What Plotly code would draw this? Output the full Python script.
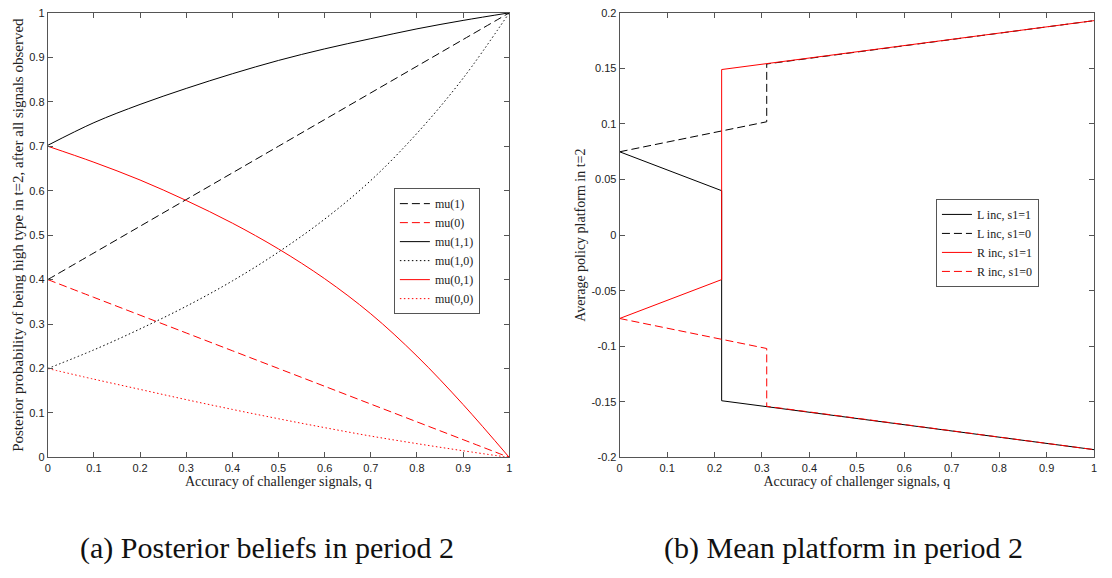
import plotly.graph_objects as go

# ---- Panel (a): posterior beliefs in period 2 ----
q_grid = [0.0, 0.1, 0.2, 0.3, 0.4, 0.5, 0.6, 0.7, 0.8, 0.9, 1.0]
mu_1 = [0.40, 0.46, 0.52, 0.58, 0.64, 0.70, 0.76, 0.82, 0.88, 0.94, 1.00]
mu_0 = [0.40, 0.36, 0.32, 0.28, 0.24, 0.20, 0.16, 0.12, 0.08, 0.04, 0.00]
mu_11 = [0.702, 0.753, 0.794, 0.830, 0.863, 0.893, 0.919, 0.942, 0.964, 0.983, 1.000]
mu_10 = [0.200, 0.242, 0.289, 0.340, 0.397, 0.462, 0.536, 0.623, 0.729, 0.853, 1.000]
mu_01 = [0.700, 0.664, 0.624, 0.578, 0.527, 0.469, 0.402, 0.323, 0.228, 0.119, 0.000]
mu_00 = [0.200, 0.176, 0.153, 0.130, 0.108, 0.087, 0.067, 0.048, 0.031, 0.015, 0.000]

# ---- Panel (b): mean platform in period 2 ----
q_L1 = [0.0, 0.215, 0.215, 1.0]
L_inc_s1_1 = [0.075, 0.040, -0.149, -0.193]
q_L0 = [0.0, 0.31, 0.31, 1.0]
L_inc_s1_0 = [0.075, 0.102, 0.154, 0.193]
q_R1 = [0.0, 0.215, 0.215, 1.0]
R_inc_s1_1 = [-0.075, -0.040, 0.149, 0.193]
q_R0 = [0.0, 0.31, 0.31, 1.0]
R_inc_s1_0 = [-0.075, -0.102, -0.154, -0.193]

x_ticks = [0, 0.1, 0.2, 0.3, 0.4, 0.5, 0.6, 0.7, 0.8, 0.9, 1]
x_ticktext = ["0", "0.1", "0.2", "0.3", "0.4", "0.5", "0.6", "0.7", "0.8", "0.9", "1"]
ya_ticks = [0, 0.1, 0.2, 0.3, 0.4, 0.5, 0.6, 0.7, 0.8, 0.9, 1]
ya_ticktext = ["0", "0.1", "0.2", "0.3", "0.4", "0.5", "0.6", "0.7", "0.8", "0.9", "1"]
yb_ticks = [-0.2, -0.15, -0.1, -0.05, 0, 0.05, 0.1, 0.15, 0.2]
yb_ticktext = ["-0.2", "-0.15", "-0.1", "-0.05", "0", "0.05", "0.1", "0.15", "0.2"]

BLACK = "#000000"
RED = "#ff0000"
SERIF = "Liberation Serif, Times New Roman, serif"
SANS = "Liberation Sans, Arial, sans-serif"
DASH = "8px,4px"
DOT = "1.5px,2.5px"

# plot-area edges in pixels
TOP_PX, BOTTOM_PX = 7, 461

fig = go.Figure()

left_series = [
    ("mu(1)", mu_1, BLACK, DASH),
    ("mu(0)", mu_0, RED, DASH),
    ("mu(1,1)", mu_11, BLACK, "solid"),
    ("mu(1,0)", mu_10, BLACK, DOT),
    ("mu(0,1)", mu_01, RED, "solid"),
    ("mu(0,0)", mu_00, RED, DOT),
]
for name, ys, color, dash in left_series:
    fig.add_trace(go.Scatter(
        x=q_grid, y=ys, mode="lines", name=name,
        line=dict(color=color, width=1, dash=dash, shape="spline", smoothing=1.0),
        xaxis="x", yaxis="y", legend="legend",
    ))

right_series = [
    ("L inc, s1=1", q_L1, L_inc_s1_1, BLACK, "solid"),
    ("L inc, s1=0", q_L0, L_inc_s1_0, BLACK, DASH),
    ("R inc, s1=1", q_R1, R_inc_s1_1, RED, "solid"),
    ("R inc, s1=0", q_R0, R_inc_s1_0, RED, DASH),
]
for name, xs, ys, color, dash in right_series:
    fig.add_trace(go.Scatter(
        x=xs, y=ys, mode="lines", name=name,
        line=dict(color=color, width=1, dash=dash),
        xaxis="x2", yaxis="y2", legend="legend2",
    ))

axis_common = dict(
    showgrid=False, zeroline=False, showline=True, linecolor="#555555",
    linewidth=1, mirror="allticks", ticks="inside", ticklen=5,
    tickcolor="#555555", tickfont=dict(family=SANS, size=11, color="#222222"),
)
y_domain = [1 - BOTTOM_PX / 578, 1 - TOP_PX / 578]

fig.update_layout(
    width=1112, height=578,
    margin=dict(l=0, r=0, t=0, b=0),
    paper_bgcolor="white", plot_bgcolor="white",
    xaxis=dict(domain=[45 / 1112, 509 / 1112], range=[0, 1], anchor="y",
               tickvals=x_ticks, ticktext=x_ticktext,
               title=dict(text="Accuracy of challenger signals, q",
                          font=dict(family=SERIF, size=14, color="#222222"), standoff=2),
               **axis_common),
    yaxis=dict(domain=y_domain, range=[0, 1], anchor="x",
               tickvals=ya_ticks, ticktext=ya_ticktext,
               title=dict(text="Posterior probability of being high type in t=2, after all signals observed",
                          font=dict(family=SERIF, size=15, color="#222222"), standoff=2),
               **axis_common),
    xaxis2=dict(domain=[620 / 1112, 1097 / 1112], range=[0, 1], anchor="y2",
                tickvals=x_ticks, ticktext=x_ticktext,
                title=dict(text="Accuracy of challenger signals, q",
                           font=dict(family=SERIF, size=14, color="#222222"), standoff=2),
                **axis_common),
    yaxis2=dict(domain=y_domain, range=[-0.2, 0.2], anchor="x2",
                tickvals=yb_ticks, ticktext=yb_ticktext,
                title=dict(text="Average policy platform in t=2",
                           font=dict(family=SERIF, size=14, color="#222222"), standoff=2),
                **axis_common),
    legend=dict(x=393 / 1112, y=1 - 186 / 578, xanchor="left", yanchor="top",
                bgcolor="white", bordercolor="#555555", borderwidth=1,
                font=dict(family=SERIF, size=12, color="#222222"),
                tracegroupgap=0, itemwidth=30),
    legend2=dict(x=938 / 1112, y=1 - 197 / 578, xanchor="left", yanchor="top",
                 bgcolor="white", bordercolor="#555555", borderwidth=1,
                 font=dict(family=SERIF, size=12, color="#222222"),
                 tracegroupgap=0, itemwidth=30),
    showlegend=True,
)

fig.add_annotation(text="(a) Posterior beliefs in period 2", x=265 / 1112, y=1 - 553 / 578,
                   xref="paper", yref="paper", xanchor="center", yanchor="middle",
                   showarrow=False, font=dict(family=SERIF, size=30, color="#111111"))
fig.add_annotation(text="(b) Mean platform in period 2", x=845 / 1112, y=1 - 553 / 578,
                   xref="paper", yref="paper", xanchor="center", yanchor="middle",
                   showarrow=False, font=dict(family=SERIF, size=30, color="#111111"))

fig.write_html("out.html")
